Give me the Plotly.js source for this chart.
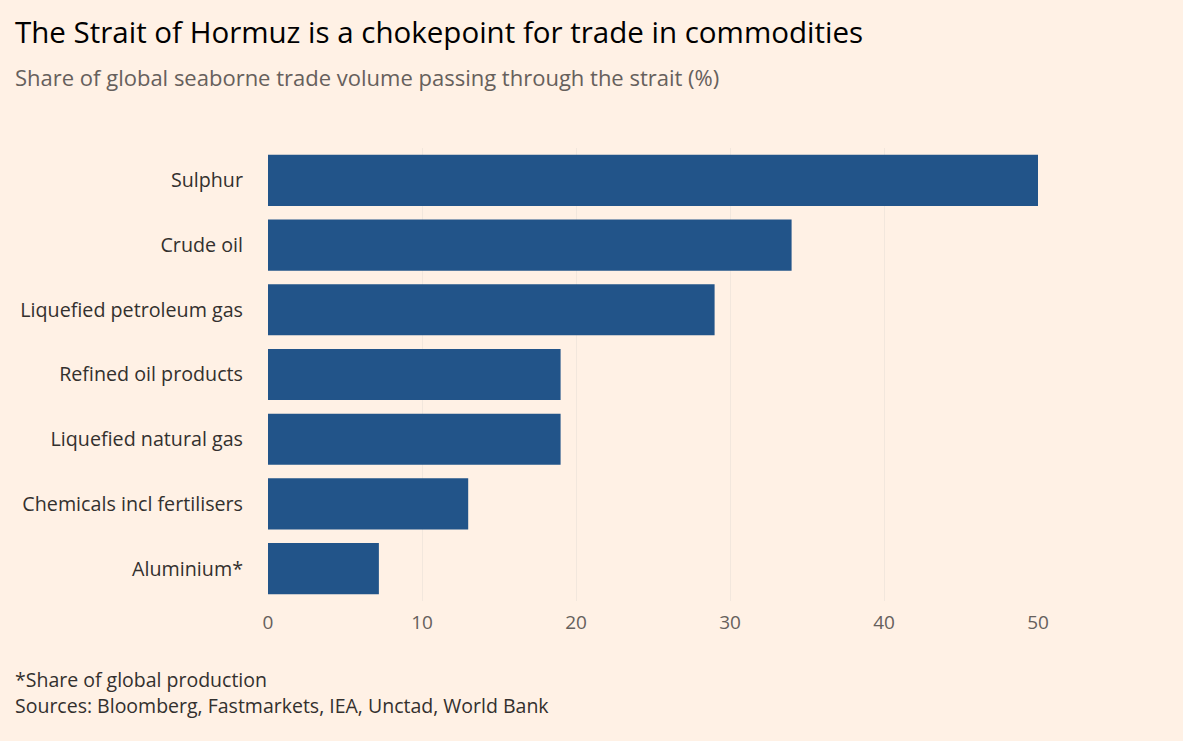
<!DOCTYPE html>
<html>
<head>
<meta charset="utf-8">
<script src="https://cdn.plot.ly/plotly-3.0.1.min.js"></script>
<style>
  html, body { margin: 0; padding: 0; background: #fff1e5; }
  #chart { width: 1183px; height: 741px; }
</style>
</head>
<body>
<div id="chart"></div>
<script>
const commodities = [
  "Sulphur",
  "Crude oil",
  "Liquefied petroleum gas",
  "Refined oil products",
  "Liquefied natural gas",
  "Chemicals incl fertilisers",
  "Aluminium*"
];
const sharePct = [50, 34, 29, 19, 19, 13, 7.2];
const xTicks = [0, 10, 20, 30, 40, 50];

const W = 1183, H = 741;
const M = { l: 268, r: 145, t: 148, b: 140 };
const plotW = W - M.l - M.r;
const plotH = H - M.t - M.b;

// page pixel -> paper coords
const px = (x) => (x - M.l) / plotW;
const py = (y) => (H - M.b - y) / plotH;

const FONT = "Open Sans, Lato, sans-serif";

const trace = {
  type: "bar",
  orientation: "h",
  x: sharePct,
  y: commodities,
  marker: { color: "#225489", line: { width: 0 } },
  hoverinfo: "x+y"
};

function note(text, x, y, size, color) {
  return {
    text, xref: "paper", yref: "paper",
    x: px(x), y: py(y),
    xanchor: "left", yanchor: "middle",
    showarrow: false,
    font: { family: FONT, size, color }
  };
}

const layout = {
  width: W, height: H,
  margin: M,
  paper_bgcolor: "#fff1e5",
  plot_bgcolor: "#fff1e5",
  bargap: 0.21,
  showlegend: false,
  font: { family: FONT, color: "#33302e" },
  xaxis: {
    range: [0, 50],
    tickvals: xTicks,
    showgrid: true,
    gridcolor: "#f2e7dd",
    gridwidth: 1,
    zeroline: false,
    showline: false,
    ticks: "",
    ticklabelstandoff: 8,
    tickfont: { size: 19, color: "#66605c" }
  },
  yaxis: {
    autorange: "reversed",
    showgrid: false,
    zeroline: false,
    showline: false,
    ticks: "",
    ticklabelstandoff: 24,
    tickfont: { size: 19.7, color: "#33302e" }
  },
  annotations: [
    note("The Strait of Hormuz is a chokepoint for trade in commodities", 13, 31, 29.5, "#000000"),
    note("Share of global seaborne trade volume passing through the strait (%)", 13, 77, 22, "#66605c"),
    note("*Share of global production", 13, 679, 19.5, "#33302e"),
    note("Sources: Bloomberg, Fastmarkets, IEA, Unctad, World Bank", 13, 705, 19.5, "#33302e")
  ]
};

Plotly.newPlot("chart", [trace], layout, { displayModeBar: false, staticPlot: true });
</script>
</body>
</html>
